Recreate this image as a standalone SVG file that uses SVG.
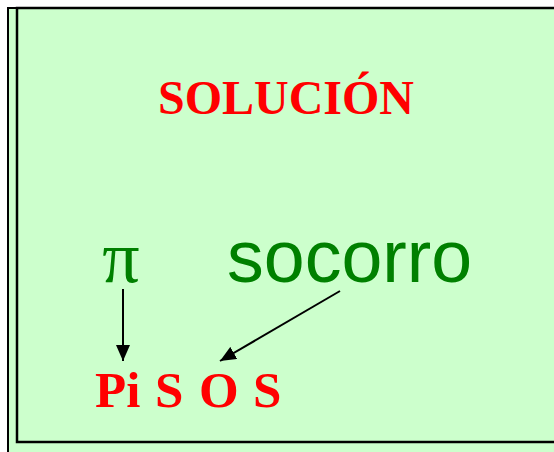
<svg xmlns="http://www.w3.org/2000/svg" width="554" height="452" viewBox="0 0 554 452">
<defs>
<marker id="ah" viewBox="0 0 16 14" refX="16" refY="7" markerWidth="16" markerHeight="14" markerUnits="userSpaceOnUse" orient="auto">
<path d="M0,0 L16,7 L0,14 Z" fill="#000"/>
</marker>
<style>
.red{font-family:"Liberation Serif","Times New Roman",serif;font-weight:bold;fill:#FF0000}
.grn{fill:#008000}
.ln{stroke:#000;stroke-width:2;fill:none}
</style>
</defs>
<rect x="0" y="0" width="554" height="452" fill="#fff"/>
<rect x="8" y="8" width="560" height="460" fill="#CCFFCC" stroke="#000" stroke-width="2"/>
<rect x="17" y="8" width="560" height="434" fill="none" stroke="#000" stroke-width="2.5"/>
<g id="title"><text class="red" x="286" y="114" font-size="48" text-anchor="middle">SOLUCIÓN</text></g>
<g id="pi"><text class="grn" x="121" y="282" font-size="74" font-family="Liberation Serif,serif" text-anchor="middle">π</text></g>
<g id="socorro"><text class="grn" x="227" y="282" font-size="73.5" font-family="Liberation Sans,Arial,sans-serif">socorro</text></g>
<g id="pisos" class="red" font-size="51">
<text class="red" x="95" y="407">Pi</text>
<text class="red" x="155" y="407">S</text>
<text class="red" x="199" y="407">O</text>
<text class="red" x="253" y="407">S</text>
</g>
<g id="connectors">
<line class="ln" x1="123" y1="289" x2="123" y2="361" marker-end="url(#ah)"/>
<line class="ln" x1="340" y1="291" x2="220" y2="361" marker-end="url(#ah)"/>
</g>
</svg>
